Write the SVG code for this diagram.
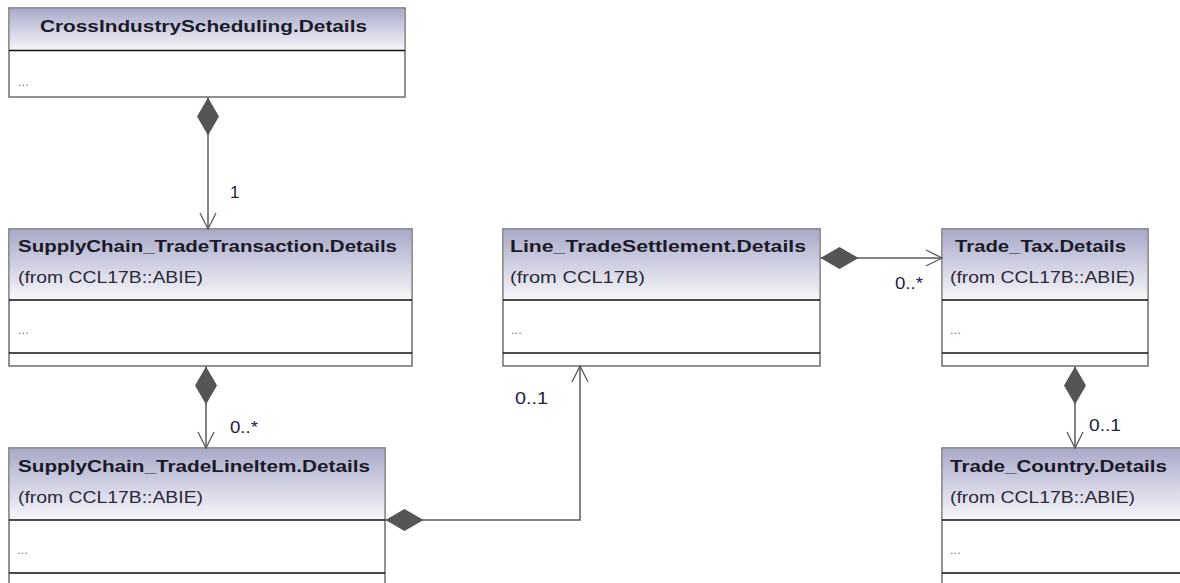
<svg xmlns="http://www.w3.org/2000/svg" width="1180" height="583" viewBox="0 0 1180 583">
<defs>
<linearGradient id="hdr" x1="0" y1="0" x2="0" y2="1">
<stop offset="0" stop-color="#a9a9c9"/>
<stop offset="1" stop-color="#f7f7fb"/>
</linearGradient>
<marker id="open" viewBox="0 0 20 20" refX="18" refY="10" markerWidth="20" markerHeight="20" markerUnits="userSpaceOnUse" orient="auto">
<path d="M2,2 L18,10 L2,18" fill="none" stroke="#5a5a5a" stroke-width="1.3"/>
</marker>
<marker id="dia" viewBox="0 0 40 24" refX="1" refY="12" markerWidth="40" markerHeight="24" markerUnits="userSpaceOnUse" orient="auto">
<path d="M1,12 L20,1 L39,12 L20,23 Z" fill="#555555"/>
</marker>
</defs>
<style>
.box{fill:#ffffff;stroke:#6e6e6e;stroke-width:1.5}
.hd{fill:url(#hdr)}
.div{stroke:#111111;stroke-width:1.5}
.t{font-family:"Liberation Sans",Arial,sans-serif;font-size:17px;font-weight:bold;fill:#1a1a28}
.s{font-family:"Liberation Sans",Arial,sans-serif;font-size:17px;fill:#2a2a3a}
.d{font-family:"Liberation Sans",Arial,sans-serif;font-size:13px;fill:#9a6a9a}
.lbl{font-family:"Liberation Sans",Arial,sans-serif;font-size:17px;fill:#222244}
.c{fill:none;stroke:#5a5a5a;stroke-width:1.5}
</style>

<g id="CrossIndustryScheduling">
<rect class="box" x="9" y="8" width="396" height="89"/>
<rect class="hd" x="9.75" y="8.75" width="394.5" height="41.5"/>
<line class="div" x1="9" y1="50.5" x2="405" y2="50.5"/>
<text class="t" x="40" y="32" textLength="327" lengthAdjust="spacingAndGlyphs">CrossIndustryScheduling.Details</text>
<text class="d" x="18" y="86">...</text>
</g>

<g id="SupplyChain_TradeTransaction">
<rect class="box" x="9" y="229" width="403" height="137"/>
<rect class="hd" x="9.75" y="229.75" width="401.5" height="70"/>
<line class="div" x1="9" y1="300" x2="412" y2="300"/>
<line class="div" x1="9" y1="353" x2="412" y2="353"/>
<text class="t" x="18" y="252" textLength="379" lengthAdjust="spacingAndGlyphs">SupplyChain_TradeTransaction.Details</text>
<text class="s" x="18" y="283" textLength="185" lengthAdjust="spacingAndGlyphs">(from CCL17B::ABIE)</text>
<text class="d" x="18" y="334">...</text>
</g>

<g id="Line_TradeSettlement">
<rect class="box" x="503" y="229" width="317" height="137"/>
<rect class="hd" x="503.75" y="229.75" width="315.5" height="70"/>
<line class="div" x1="503" y1="300" x2="820" y2="300"/>
<line class="div" x1="503" y1="353" x2="820" y2="353"/>
<text class="t" x="510" y="252" textLength="296" lengthAdjust="spacingAndGlyphs">Line_TradeSettlement.Details</text>
<text class="s" x="510" y="283" textLength="135" lengthAdjust="spacingAndGlyphs">(from CCL17B)</text>
<text class="d" x="511" y="334">...</text>
</g>

<g id="Trade_Tax">
<rect class="box" x="942" y="229" width="206" height="137"/>
<rect class="hd" x="942.75" y="229.75" width="204.5" height="70"/>
<line class="div" x1="942" y1="300" x2="1148" y2="300"/>
<line class="div" x1="942" y1="353" x2="1148" y2="353"/>
<text class="t" x="955" y="252" textLength="171" lengthAdjust="spacingAndGlyphs">Trade_Tax.Details</text>
<text class="s" x="950" y="283" textLength="185" lengthAdjust="spacingAndGlyphs">(from CCL17B::ABIE)</text>
<text class="d" x="950" y="334">...</text>
</g>

<g id="SupplyChain_TradeLineItem">
<rect class="box" x="9" y="448" width="376" height="150"/>
<rect class="hd" x="9.75" y="448.75" width="374.5" height="71"/>
<line class="div" x1="9" y1="520" x2="385" y2="520"/>
<line class="div" x1="9" y1="573" x2="385" y2="573"/>
<text class="t" x="18" y="472" textLength="352" lengthAdjust="spacingAndGlyphs">SupplyChain_TradeLineItem.Details</text>
<text class="s" x="18" y="503" textLength="185" lengthAdjust="spacingAndGlyphs">(from CCL17B::ABIE)</text>
<text class="d" x="17" y="554">...</text>
</g>

<g id="Trade_Country">
<rect class="box" x="942" y="448" width="240" height="150"/>
<rect class="hd" x="942.75" y="448.75" width="238.5" height="71"/>
<line class="div" x1="942" y1="520" x2="1182" y2="520"/>
<line class="div" x1="942" y1="573" x2="1182" y2="573"/>
<text class="t" x="950" y="472" textLength="217" lengthAdjust="spacingAndGlyphs">Trade_Country.Details</text>
<text class="s" x="950" y="503" textLength="185" lengthAdjust="spacingAndGlyphs">(from CCL17B::ABIE)</text>
<text class="d" x="950" y="554">...</text>
</g>

<g id="connectors">
<path class="c" d="M208,97.5 L208,229" marker-start="url(#dia)" marker-end="url(#open)"/>
<text class="lbl" x="230" y="198">1</text>
<path class="c" d="M206,366.5 L206,448" marker-start="url(#dia)" marker-end="url(#open)"/>
<text class="lbl" x="230" y="433" textLength="28" lengthAdjust="spacingAndGlyphs">0..*</text>
<path class="c" d="M385.5,520 L580,520 L580,366" marker-start="url(#dia)" marker-end="url(#open)"/>
<text class="lbl" x="515" y="404" textLength="33" lengthAdjust="spacingAndGlyphs">0..1</text>
<path class="c" d="M820.5,258 L942,258" marker-start="url(#dia)" marker-end="url(#open)"/>
<text class="lbl" x="895" y="289" textLength="28" lengthAdjust="spacingAndGlyphs">0..*</text>
<path class="c" d="M1075,366.5 L1075,448" marker-start="url(#dia)" marker-end="url(#open)"/>
<text class="lbl" x="1089" y="431" textLength="32" lengthAdjust="spacingAndGlyphs">0..1</text>
</g>
</svg>
